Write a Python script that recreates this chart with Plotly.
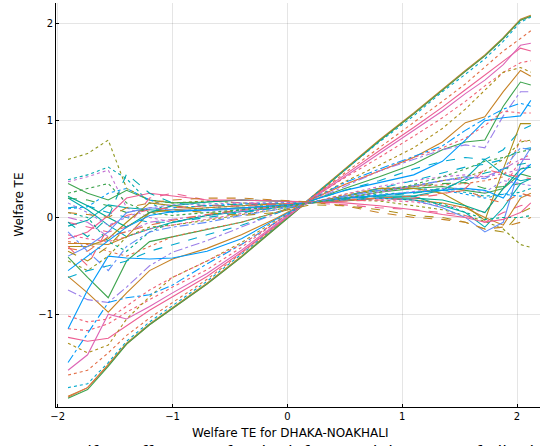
import plotly.graph_objects as go

# Shared grid of Welfare TE for DHAKA-NOAKHALI
x_vals = [-1.91, -1.74, -1.56, -1.40, -1.20, -1.00, -0.70, -0.40, -0.10, 0.20,
          0.50, 0.80, 1.10, 1.35, 1.55, 1.72, 1.88, 2.03, 2.12]

# steep group
y01 = [-1.85, -1.76, -1.52, -1.30, -1.10, -0.93, -0.68, -0.40, -0.10, 0.20, 0.50, 0.80, 1.08, 1.33, 1.52, 1.68, 1.86, 2.05, 2.09]
y02 = [-1.86, -1.76, -1.53, -1.31, -1.11, -0.94, -0.69, -0.41, -0.11, 0.19, 0.49, 0.79, 1.07, 1.32, 1.51, 1.67, 1.85, 2.04, 2.08]
y03 = [-1.87, -1.78, -1.54, -1.31, -1.11, -0.94, -0.69, -0.41, -0.11, 0.19, 0.49, 0.79, 1.07, 1.32, 1.51, 1.67, 1.85, 2.04, 2.08]
y04 = [-1.76, -1.72, -1.50, -1.28, -1.08, -0.91, -0.66, -0.38, -0.09, 0.20, 0.49, 0.78, 1.05, 1.30, 1.48, 1.64, 1.82, 2.02, 2.07]
y05 = [-1.63, -1.58, -1.40, -1.22, -1.04, -0.88, -0.64, -0.37, -0.08, 0.19, 0.46, 0.72, 0.98, 1.20, 1.38, 1.55, 1.72, 1.85, 1.93]
y06 = [-1.24, -1.28, -1.25, -1.12, -0.96, -0.82, -0.61, -0.36, -0.08, 0.19, 0.44, 0.69, 0.93, 1.14, 1.32, 1.47, 1.62, 1.75, 1.72]
y07 = [-1.58, -1.42, -1.00, -1.05, -0.92, -0.78, -0.58, -0.34, -0.07, 0.18, 0.42, 0.66, 0.90, 1.10, 1.28, 1.42, 1.58, 1.78, 1.80]
y08 = [-1.15, -1.17, -1.10, -0.98, -0.85, -0.72, -0.54, -0.31, -0.05, 0.19, 0.41, 0.62, 0.84, 1.03, 1.20, 1.36, 1.50, 1.60, 1.62]
y09 = [-1.30, -1.40, -1.32, -1.05, -0.82, -0.62, -0.45, -0.26, -0.03, 0.18, 0.37, 0.54, 0.72, 0.92, 1.12, 1.32, 1.50, 1.55, 1.50]
y10 = [-0.61, -0.78, -0.98, -0.78, -0.55, -0.43, -0.32, -0.18, -0.01, 0.18, 0.34, 0.48, 0.62, 0.78, 0.98, 1.04, 1.30, 1.52, 1.46]
y11 = [-0.41, -0.62, -0.83, -0.45, -0.25, -0.20, -0.12, -0.05, 0.05, 0.17, 0.30, 0.42, 0.55, 0.70, 0.78, 0.80, 1.15, 1.40, 1.37]
y12 = [-0.75, -0.85, -0.88, -0.72, -0.50, -0.36, -0.24, -0.10, 0.04, 0.17, 0.32, 0.48, 0.60, 0.70, 0.75, 0.72, 1.05, 1.30, 1.30]
y13 = [-1.15, -0.75, -0.40, -0.42, -0.43, -0.42, -0.35, -0.22, -0.02, 0.17, 0.28, 0.36, 0.44, 0.58, 0.80, 1.00, 1.03, 1.05, 1.21]
y14 = [-1.50, -1.20, -0.88, -0.83, -0.80, -0.70, -0.48, -0.28, -0.05, 0.18, 0.36, 0.50, 0.63, 0.74, 0.90, 1.02, 1.12, 1.18, 1.15]
y15 = [-0.62, -0.55, -0.50, -0.45, -0.35, -0.28, -0.18, -0.08, 0.04, 0.17, 0.28, 0.38, 0.50, 0.58, 0.62, 0.60, 0.70, 0.90, 0.95]
y16 = [-1.02, -1.08, -1.05, -0.92, -0.75, -0.62, -0.45, -0.28, -0.05, 0.18, 0.34, 0.48, 0.62, 0.72, 0.82, 0.95, 1.10, 1.08, 1.08]

# flat group
f01 = [0.60, 0.66, 0.80, 0.30, 0.18, 0.15, 0.17, 0.15, 0.13, 0.15, 0.18, 0.17, 0.12, 0.08, 0.02, -0.04, -0.12, -0.28, -0.31]
f02 = [0.39, 0.44, 0.52, 0.40, 0.15, 0.05, 0.10, 0.12, 0.12, 0.15, 0.20, 0.24, 0.26, 0.28, 0.26, 0.22, 0.24, 0.26, 0.30]
f03 = [0.37, 0.42, 0.49, 0.10, 0.00, -0.05, 0.02, 0.06, 0.10, 0.15, 0.24, 0.32, 0.38, 0.42, 0.44, 0.42, 0.45, 0.50, 0.55]
f04 = [0.35, 0.25, 0.18, 0.28, 0.18, 0.15, 0.16, 0.18, 0.17, 0.16, 0.20, 0.26, 0.30, 0.32, 0.28, 0.25, 0.30, 0.45, 0.42]
f05 = [0.20, 0.08, -0.08, -0.20, -0.12, -0.05, 0.02, 0.06, 0.10, 0.15, 0.18, 0.20, 0.22, 0.28, 0.40, 0.60, 0.45, 0.38, 0.40]
f06 = [0.20, 0.18, 0.12, 0.05, 0.08, 0.10, 0.12, 0.14, 0.14, 0.15, 0.22, 0.28, 0.32, 0.35, 0.36, 0.30, 0.32, 0.35, 0.36]
f07 = [0.09, 0.11, 0.25, 0.30, 0.18, 0.10, 0.12, 0.14, 0.15, 0.16, 0.22, 0.28, 0.30, 0.28, 0.24, 0.20, 0.24, 0.22, 0.23]
f08 = [-0.09, -0.03, 0.13, 0.10, 0.08, 0.06, 0.08, 0.10, 0.12, 0.15, 0.20, 0.22, 0.22, 0.12, 0.05, -0.10, 0.10, 0.35, 0.40]
f09 = [-0.05, -0.10, -0.15, -0.10, 0.20, 0.25, 0.18, 0.15, 0.14, 0.15, 0.13, 0.10, 0.08, 0.05, 0.02, -0.05, 0.05, 0.12, 0.15]
f10 = [-0.18, -0.22, -0.25, -0.20, -0.12, -0.08, -0.02, 0.04, 0.10, 0.15, 0.18, 0.18, 0.16, 0.12, 0.10, 0.05, 0.30, 0.60, 0.65]
f11 = [-0.25, -0.28, -0.35, -0.40, -0.30, -0.20, -0.12, -0.05, 0.05, 0.15, 0.24, 0.30, 0.32, 0.34, 0.35, 0.38, 0.42, 0.80, 0.78]
f12 = [-0.27, -0.27, -0.28, -0.20, 0.05, 0.08, 0.10, 0.12, 0.14, 0.15, 0.17, 0.20, 0.18, 0.15, 0.10, 0.00, -0.08, 0.20, 0.25]
f13 = [-0.30, -0.30, -0.22, -0.05, 0.15, 0.12, 0.08, 0.10, 0.12, 0.15, 0.22, 0.30, 0.30, 0.25, 0.12, -0.03, 0.50, 0.97, 0.97]
f15 = [0.22, 0.12, 0.00, -0.10, 0.05, 0.12, 0.16, 0.18, 0.17, 0.16, 0.18, 0.20, 0.20, 0.18, 0.12, 0.05, 0.30, 0.50, 0.52]
f16 = [-0.40, -0.30, -0.15, 0.05, 0.10, 0.08, 0.07, 0.09, 0.12, 0.15, 0.18, 0.20, 0.18, 0.10, 0.00, -0.15, -0.05, 0.55, 0.72]
f17 = [0.00, -0.05, -0.20, -0.15, -0.05, -0.02, 0.03, 0.07, 0.11, 0.15, 0.20, 0.26, 0.32, 0.38, 0.40, 0.42, 0.50, 0.60, 0.60]
f18 = [0.10, 0.12, 0.05, 0.00, -0.05, -0.05, 0.00, 0.05, 0.10, 0.15, 0.22, 0.30, 0.38, 0.46, 0.52, 0.55, 0.60, 0.70, 0.72]
f19 = [-0.35, -0.45, -0.30, -0.10, 0.05, 0.08, 0.05, 0.02, 0.05, 0.13, 0.12, 0.08, 0.02, 0.00, -0.05, -0.12, -0.15, 0.05, 0.10]
f20 = [-0.45, -0.55, -0.40, -0.20, -0.10, -0.08, -0.03, 0.03, 0.08, 0.15, 0.22, 0.28, 0.32, 0.38, 0.42, 0.48, 0.60, 0.78, 0.80]
f21 = [-0.22, -0.15, 0.02, 0.20, 0.25, 0.22, 0.18, 0.18, 0.17, 0.16, 0.15, 0.12, 0.08, 0.03, 0.00, -0.05, -0.02, 0.05, 0.15]
f22 = [0.05, 0.00, -0.25, -0.35, -0.15, -0.05, 0.02, 0.08, 0.12, 0.15, 0.18, 0.20, 0.18, 0.14, 0.05, -0.02, 0.00, 0.00, 0.02]
f23 = [0.15, 0.05, -0.08, 0.00, 0.10, 0.13, 0.14, 0.15, 0.15, 0.15, 0.19, 0.23, 0.27, 0.30, 0.30, 0.26, 0.38, 0.35, 0.33]
f24 = [-0.32, -0.35, -0.20, -0.15, -0.08, -0.03, 0.03, 0.08, 0.11, 0.15, 0.18, 0.20, 0.22, 0.25, 0.28, 0.20, 0.15, 0.25, 0.22]
f25 = [-0.55, -0.40, -0.25, -0.10, 0.02, 0.06, 0.08, 0.10, 0.12, 0.15, 0.20, 0.23, 0.26, 0.28, 0.30, 0.28, 0.20, 0.45, 0.55]
f26 = [-0.05, -0.20, 0.00, 0.45, 0.25, 0.15, 0.12, 0.13, 0.14, 0.15, 0.19, 0.22, 0.25, 0.30, 0.38, 0.46, 0.50, 0.55, 0.57]
f27 = [0.05, 0.03, 0.00, 0.10, 0.15, 0.18, 0.20, 0.20, 0.18, 0.16, 0.12, 0.05, 0.00, -0.02, -0.05, -0.12, -0.10, -0.05, 0.00]
f28 = [-0.15, -0.35, -0.55, -0.30, -0.15, -0.10, -0.05, 0.02, 0.08, 0.15, 0.22, 0.28, 0.33, 0.38, 0.42, 0.40, 0.50, 0.72, 0.70]
f29 = [-0.30, -0.50, -0.10, 0.02, 0.08, 0.10, 0.12, 0.12, 0.14, 0.15, 0.17, 0.18, 0.20, 0.24, 0.30, 0.50, 0.45, 0.42, 0.40]
f30 = [0.25, 0.30, 0.35, 0.15, 0.05, 0.02, 0.05, 0.08, 0.11, 0.15, 0.20, 0.26, 0.34, 0.42, 0.50, 0.58, 0.62, 0.68, 0.70]

x_ticks = [-2, -1, 0, 1, 2]
y_ticks = [-1, 0, 1, 2]
x_title = "Welfare TE for DHAKA-NOAKHALI"
y_title = "Welfare TE"
bottom_caption = "Welfare effects: TE for the left-out origin vs. TE of all other districts"

series = [
    (y01, "#C68225", "solid"), (y02, "#E36F47", "solid"), (y03, "#3EA44E", "solid"),
    (y04, "#00A9CD", "dot"), (y05, "#E36F47", "dot"), (y06, "#ED5E93", "solid"),
    (y07, "#DD65B6", "solid"), (y08, "#F06073", "dot"), (y09, "#AC8E18", "dot"),
    (y10, "#C68225", "solid"), (y11, "#3EA44E", "solid"), (y12, "#9B7FE9", "dashdot"),
    (y13, "#009AFA", "solid"), (y14, "#009AFA", "dashdot"), (y15, "#00A9CD", "dash"),
    (y16, "#F06073", "dot"),
    (f01, "#8E971E", "dot"), (f02, "#00AAAE", "dot"), (f03, "#C371D2", "dot"),
    (f04, "#3EA44E", "solid"), (f05, "#00AAAE", "solid"), (f06, "#3EA44E", "dash"),
    (f07, "#009AFA", "dot"), (f08, "#00AAAE", "solid"), (f09, "#ED5E93", "dash"),
    (f10, "#ED5E93", "dot"), (f11, "#E36F47", "dot"), (f12, "#C68225", "solid"),
    (f13, "#AC8E18", "solid"), (f15, "#00A98D", "solid"), (f16, "#618DF8", "solid"),
    (f17, "#C371D2", "dashdot"), (f18, "#00A9CD", "dash"), (f19, "#AC8E18", "dash"),
    (f20, "#8E971E", "dot"), (f21, "#ED5E93", "solid"), (f22, "#00A98D", "dot"),
    (f23, "#9B7FE9", "dot"), (f24, "#E36F47", "dash"), (f25, "#009AFA", "solid"),
    (f26, "#00AAAE", "dash"), (f27, "#C68225", "dash"), (f28, "#618DF8", "dashdot"),
    (f29, "#F06073", "dash"), (f30, "#3EA44E", "dot"),
]

fig = go.Figure()
for ys, col, dash in series:
    fig.add_trace(go.Scatter(x=x_vals, y=ys, mode="lines",
                             line=dict(color=col, width=1.1, dash=dash),
                             showlegend=False, hoverinfo="skip", cliponaxis=True))

axis_common = dict(showline=True, linecolor="black", linewidth=1, mirror=False,
                   showgrid=True, gridcolor="rgba(0,0,0,0.1)", gridwidth=0.5,
                   zeroline=False, ticks="inside", ticklen=3, tickcolor="black",
                   automargin=False,
                   tickfont=dict(family="DejaVu Sans", size=10, color="black"))

fig.update_layout(
    width=540, height=446,
    margin=dict(l=56, r=0, t=3, b=39, pad=0, autoexpand=False),
    paper_bgcolor="white", plot_bgcolor="white",
    xaxis=dict(range=[-2.015, 2.2], tickvals=x_ticks,
               ticktext=["\u22122", "\u22121", "0", "1", "2"], **axis_common),
    yaxis=dict(range=[-1.96, 2.217], tickvals=y_ticks,
               ticktext=["\u22121", "0", "1", "2"], **axis_common),
    annotations=[
        dict(text=x_title, xref="paper", yref="paper", x=0.485, y=-0.064,
             xanchor="center", yanchor="middle", showarrow=False,
             font=dict(family="DejaVu Sans", size=12, color="black")),
        dict(text=y_title, xref="paper", yref="paper", x=-0.077, y=0.5,
             xanchor="center", yanchor="middle", textangle=-90, showarrow=False,
             font=dict(family="DejaVu Sans", size=12, color="black")),
        dict(text=bottom_caption, xref="paper", yref="paper", x=0.6, y=-0.1135,
             xanchor="center", yanchor="middle", showarrow=False,
             font=dict(family="DejaVu Sans", size=17, color="black")),
    ],
)

fig.write_html("out.html", config={"displayModeBar": False},
               post_script="document.body.style.margin='0';document.body.style.overflow='hidden';")
